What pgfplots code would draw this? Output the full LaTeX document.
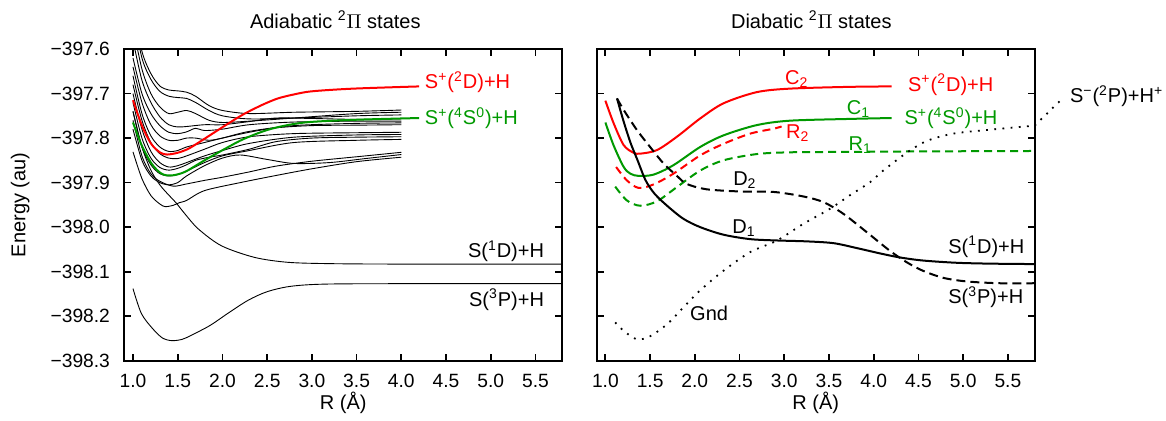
\documentclass[border=0pt]{standalone}
\usepackage{fontspec}
\setmainfont{Liberation Sans}
\usepackage{pgfplots}
\pgfplotsset{compat=1.18}
\definecolor{cred}{RGB}{255,0,0}
\definecolor{cgreen}{RGB}{0,153,0}
\newcommand{\fs}{\fontsize{10}{12}\selectfont}
\newcommand{\ft}{\fontsize{9.6}{11.5}\selectfont}
\pgfplotsset{
  pane/.style={
    scale only axis, width=219pt, height=155.85pt,
    xmin=0.903, xmax=5.8, ymin=-398.3, ymax=-397.6,
    xtick={1,1.5,2,2.5,3,3.5,4,4.5,5,5.5},
    xticklabels={1.0,1.5,2.0,2.5,3.0,3.5,4.0,4.5,5.0,5.5},
    ytick={-398.3,-398.2,-398.1,-398.0,-397.9,-397.8,-397.7,-397.6},
    xtick pos=both, ytick pos=both, xticklabel pos=bottom, yticklabel pos=left,
    tick align=inside, major tick length=3.5pt,
    axis line style={line width=1pt},
    every tick/.append style={black, line width=0.9pt},
    tick label style={font=\ft},
    label style={font=\fs},
    xticklabel style={inner sep=0pt, yshift=-6.5pt},
    yticklabel style={inner sep=0pt, xshift=-7pt},
    every axis title/.style={anchor=base, inner sep=0pt, font=\fs},
    every axis x label/.style={at={(0.5,0)}, anchor=base, yshift=-24.5pt, inner sep=0pt, font=\fs},
    /pgf/number format/assume math mode=true,
  },
  blk/.style={black, line width=0.45pt, smooth},
  thk/.style={line width=1pt, smooth},
}
\begin{document}
\begin{tikzpicture}[font=\fs]
% ---------------- Left panel ----------------
\begin{axis}[pane, at={(0,0)}, anchor=south west,
  title={Adiabatic \textsuperscript{2}$\Pi$ states},
  title style={at={(0.4817,1)}, yshift=10.5pt},
  xlabel={R (Å)},
  ylabel={Energy (au)},
  every axis y label/.style={at={(0,0.5)}, xshift=-52pt, rotate=90, anchor=center, font=\fs},
  yticklabels={−398.3,−398.2,−398.1,−398.0,−397.9,−397.8,−397.7,−397.6},
]
% upper bundle
\addplot[blk] coordinates {(1.0,-397.50) (1.1,-397.605) (1.2,-397.655) (1.3,-397.683) (1.4,-397.692) (1.5,-397.694) (1.6,-397.697) (1.7,-397.706) (1.85,-397.727) (2.0,-397.738) (2.3,-397.745) (2.8,-397.742) (3.5,-397.740) (4.0,-397.737)};
\addplot[blk] coordinates {(1.0,-397.52) (1.1,-397.62) (1.2,-397.668) (1.3,-397.695) (1.4,-397.706) (1.5,-397.709) (1.6,-397.711) (1.7,-397.72) (1.85,-397.738) (2.0,-397.75) (2.3,-397.757) (2.8,-397.755) (3.5,-397.750) (4.0,-397.748)};
\addplot[blk] coordinates {(1.0,-397.55) (1.1,-397.645) (1.2,-397.70) (1.3,-397.73) (1.4,-397.745) (1.5,-397.742) (1.6,-397.738) (1.7,-397.745) (1.85,-397.76) (2.0,-397.765) (2.3,-397.762) (2.8,-397.755) (3.5,-397.745) (4.0,-397.742)};
\addplot[blk] coordinates {(1.0,-397.58) (1.1,-397.67) (1.2,-397.72) (1.3,-397.752) (1.4,-397.77) (1.5,-397.775) (1.6,-397.774) (1.8,-397.77) (2.0,-397.77) (2.3,-397.763) (2.6,-397.755) (3.0,-397.756) (3.5,-397.758) (4.0,-397.757)};
\addplot[blk] coordinates {(1.0,-397.62) (1.1,-397.70) (1.2,-397.745) (1.3,-397.772) (1.4,-397.787) (1.5,-397.79) (1.6,-397.786) (1.7,-397.778) (1.8,-397.783) (2.0,-397.78) (2.3,-397.77) (2.8,-397.764) (3.5,-397.762) (4.0,-397.762)};
\addplot[blk] coordinates {(1.0,-397.64) (1.1,-397.72) (1.2,-397.77) (1.3,-397.795) (1.4,-397.805) (1.5,-397.805) (1.6,-397.80) (1.7,-397.80) (1.85,-397.805) (2.0,-397.80) (2.3,-397.785) (2.8,-397.772) (3.5,-397.767) (4.0,-397.766)};
\addplot[blk] coordinates {(1.0,-397.66) (1.1,-397.745) (1.2,-397.795) (1.3,-397.82) (1.4,-397.83) (1.5,-397.828) (1.6,-397.82) (1.8,-397.81) (2.0,-397.80) (2.3,-397.787) (2.6,-397.777) (3.0,-397.772) (3.5,-397.771) (4.0,-397.770)};
% middle group
\addplot[blk] coordinates {(1.0,-397.68) (1.1,-397.76) (1.2,-397.81) (1.3,-397.835) (1.4,-397.845) (1.5,-397.846) (1.6,-397.84) (1.8,-397.825) (2.0,-397.81) (2.3,-397.797) (2.8,-397.79) (3.5,-397.788) (4.0,-397.787)};
\addplot[blk] coordinates {(1.0,-397.70) (1.1,-397.78) (1.2,-397.83) (1.3,-397.855) (1.4,-397.865) (1.5,-397.862) (1.6,-397.855) (1.8,-397.84) (2.0,-397.828) (2.3,-397.812) (2.8,-397.798) (3.5,-397.793) (4.0,-397.792)};
\addplot[blk] coordinates {(1.0,-397.72) (1.1,-397.80) (1.2,-397.845) (1.3,-397.866) (1.4,-397.872) (1.5,-397.868) (1.6,-397.86) (1.7,-397.85) (1.85,-397.843) (2.0,-397.838) (2.3,-397.825) (2.6,-397.808) (3.0,-397.80) (3.5,-397.798) (4.0,-397.797)};
\addplot[blk] coordinates {(1.0,-397.74) (1.1,-397.82) (1.2,-397.86) (1.3,-397.88) (1.4,-397.885) (1.5,-397.882) (1.6,-397.874) (1.8,-397.855) (2.0,-397.84) (2.3,-397.828) (2.8,-397.81) (3.5,-397.805) (4.0,-397.803)};
% lower group
\addplot[blk] coordinates {(1.0,-397.76) (1.1,-397.84) (1.2,-397.88) (1.3,-397.897) (1.45,-397.908) (1.6,-397.903) (1.8,-397.895) (2.0,-397.888) (2.3,-397.876) (2.6,-397.863) (3.0,-397.852) (3.5,-397.842) (4.0,-397.832)};
\addplot[blk] coordinates {(1.0,-397.78) (1.1,-397.85) (1.2,-397.885) (1.3,-397.9) (1.4,-397.905) (1.5,-397.9) (1.6,-397.885) (1.8,-397.862) (2.0,-397.845) (2.2,-397.838) (2.5,-397.848) (2.8,-397.857) (3.2,-397.855) (3.6,-397.846) (4.0,-397.837)};
\addplot[blk] coordinates {(1.0,-397.831) (1.1,-397.891) (1.2,-397.929) (1.3,-397.948) (1.36,-397.954) (1.45,-397.951) (1.52,-397.945) (1.6,-397.94) (1.8,-397.918) (2.2,-397.9) (2.6,-397.884) (3.0,-397.869) (3.5,-397.853) (4.0,-397.843)};
% S(1D)+H
\addplot[blk] coordinates {(1.0,-397.74) (1.1,-397.82) (1.2,-397.872) (1.3,-397.905) (1.4,-397.928) (1.48,-397.945) (1.58,-397.97) (1.73,-398.004) (1.99,-398.042) (2.36,-398.068) (2.73,-398.079) (3.2,-398.082) (4.0,-398.083) (5.8,-398.083)};
% S(3P)+H
\addplot[blk] coordinates {(1.0,-398.138) (1.094,-398.194) (1.22,-398.228) (1.33,-398.249) (1.435,-398.255) (1.55,-398.252) (1.65,-398.243) (1.86,-398.221) (2.08,-398.191) (2.29,-398.164) (2.5,-398.145) (2.76,-398.133) (3.14,-398.128) (4.0,-398.127) (5.8,-398.127)};
% red and green
\addplot[cred, thk] coordinates {(1.0,-397.715) (1.1,-397.772) (1.2,-397.812) (1.3,-397.832) (1.38,-397.837) (1.5,-397.833) (1.62,-397.824) (1.75,-397.808) (1.92,-397.786) (2.1,-397.763) (2.25,-397.745) (2.45,-397.725) (2.62,-397.711) (2.8,-397.702) (3.0,-397.695) (3.46,-397.689) (4.2,-397.684)};
\addplot[cgreen, thk] coordinates {(1.0,-397.765) (1.097,-397.816) (1.21,-397.858) (1.32,-397.88) (1.43,-397.884) (1.58,-397.876) (1.80,-397.85) (2.03,-397.824) (2.25,-397.801) (2.55,-397.779) (2.92,-397.765) (3.48,-397.759) (4.2,-397.755)};
\node[cred, anchor=west, inner sep=0pt] at (axis cs:4.26,-397.675) {S\textsuperscript{+}(\textsuperscript{2}D)+H};
\node[cgreen, anchor=west, inner sep=0pt] at (axis cs:4.26,-397.755) {S\textsuperscript{+}(\textsuperscript{4}S\textsuperscript{0})+H};
\node[anchor=east, inner sep=0pt] at (axis cs:5.6,-398.055) {S(\textsuperscript{1}D)+H};
\node[anchor=east, inner sep=0pt] at (axis cs:5.6,-398.163) {S(\textsuperscript{3}P)+H};
\end{axis}
% ---------------- Right panel ----------------
\begin{axis}[pane, at={(236.2pt,0)}, anchor=south west, clip=false,
  title={Diabatic \textsuperscript{2}$\Pi$ states},
  title style={at={(0.49,1)}, yshift=10.5pt},
  xlabel={R (Å)},
  yticklabels={},
]
\addplot[cred, thk] coordinates {(1.0,-397.716) (1.093,-397.767) (1.205,-397.816) (1.316,-397.833) (1.39,-397.835) (1.577,-397.827) (1.8,-397.797) (2.06,-397.756) (2.32,-397.722) (2.69,-397.697) (3.06,-397.689) (3.73,-397.685) (4.2,-397.684)};
\addplot[cgreen, thk] coordinates {(1.0,-397.765) (1.093,-397.817) (1.205,-397.865) (1.28,-397.88) (1.372,-397.885) (1.54,-397.882) (1.76,-397.861) (2.06,-397.82) (2.32,-397.794) (2.69,-397.771) (3.06,-397.761) (3.73,-397.757) (4.2,-397.755)};
\addplot[cred, thk, dash pattern=on 4pt off 2.5pt] coordinates {(1.12,-397.865) (1.24,-397.895) (1.372,-397.912) (1.54,-397.904) (1.76,-397.880) (2.06,-397.839) (2.32,-397.813) (2.62,-397.79) (2.88,-397.779) (2.97,-397.774)};
\addplot[cgreen, thk, dash pattern=on 4pt off 2.5pt] coordinates {(1.11,-397.909) (1.24,-397.940) (1.39,-397.952) (1.577,-397.942) (1.8,-397.910) (2.06,-397.873) (2.32,-397.850) (2.69,-397.836) (3.06,-397.832) (3.73,-397.831) (4.5,-397.83) (5.8,-397.829)};
\addplot[black, thk] coordinates {(1.13,-397.711) (1.2,-397.76) (1.28,-397.81) (1.36,-397.85) (1.45,-397.895) (1.55,-397.925) (1.69,-397.952) (1.87,-397.981) (2.06,-398.0) (2.32,-398.017) (2.62,-398.027) (2.92,-398.030) (3.25,-398.032) (3.55,-398.036) (3.81,-398.047) (4.07,-398.059) (4.29,-398.068) (4.55,-398.075) (4.92,-398.08) (5.3,-398.082) (5.8,-398.083)};
\addplot[black, thk, dash pattern=on 4.5pt off 2.5pt] coordinates {(1.13,-397.711) (1.205,-397.737) (1.353,-397.782) (1.5,-397.820) (1.65,-397.857) (1.8,-397.885) (1.91,-397.903) (2.13,-397.915) (2.51,-397.92) (2.88,-397.921) (3.21,-397.931) (3.44,-397.944) (3.66,-397.970) (3.92,-398.011) (4.18,-398.053) (4.37,-398.079) (4.55,-398.098) (4.78,-398.114) (5.04,-398.122) (5.4,-398.126) (5.8,-398.126)};
\addplot[black, line width=0.9pt, smooth, dash pattern=on 0.9pt off 3.2pt] coordinates {(1.11,-398.214) (1.205,-398.233) (1.353,-398.252) (1.5,-398.245) (1.69,-398.218) (1.874,-398.18) (2.06,-398.142) (2.32,-398.098) (2.62,-398.056) (2.92,-398.03) (3.21,-397.993) (3.51,-397.959) (3.73,-397.929) (3.96,-397.899) (4.106,-397.873) (4.39,-397.83) (4.6,-397.806) (4.89,-397.79) (5.31,-397.781) (5.8,-397.772)};
\addplot[black, line width=0.9pt, dash pattern=on 0.9pt off 3.2pt] coordinates {(5.8,-397.772) (6.1,-397.713)};
\node[cred, inner sep=0pt] at (axis cs:3.14,-397.667) {C\textsubscript{2}};
\node[cgreen, inner sep=0pt] at (axis cs:3.83,-397.734) {C\textsubscript{1}};
\node[cred, inner sep=0pt] at (axis cs:3.15,-397.789) {R\textsubscript{2}};
\node[cgreen, inner sep=0pt] at (axis cs:3.85,-397.815) {R\textsubscript{1}};
\node[inner sep=0pt] at (axis cs:2.56,-397.895) {D\textsubscript{2}};
\node[inner sep=0pt] at (axis cs:2.55,-398.003) {D\textsubscript{1}};
\node[inner sep=0pt] at (axis cs:2.16,-398.193) {Gnd};
\node[cred, anchor=west, inner sep=0pt] at (axis cs:4.38,-397.68) {S\textsuperscript{+}(\textsuperscript{2}D)+H};
\node[cgreen, anchor=west, inner sep=0pt] at (axis cs:4.34,-397.755) {S\textsuperscript{+}(\textsuperscript{4}S\textsuperscript{0})+H};
\node[anchor=west, inner sep=0pt] at (axis cs:4.83,-398.044) {S(\textsuperscript{1}D)+H};
\node[anchor=west, inner sep=0pt] at (axis cs:4.83,-398.157) {S(\textsuperscript{3}P)+H};
\node[anchor=west, inner sep=0pt] at (axis cs:6.19,-397.706) {S\textsuperscript{−}(\textsuperscript{2}P)+H\textsuperscript{+}};
\end{axis}
\pgfresetboundingbox
\path[use as bounding box] (-62.15pt,-29.65pt) rectangle (520.85pt,180.35pt);
\end{tikzpicture}
\end{document}
